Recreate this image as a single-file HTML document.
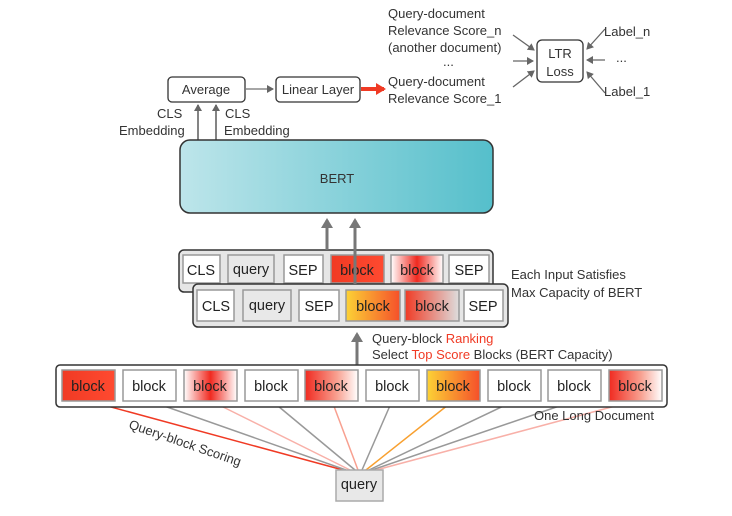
<!DOCTYPE html>
<html><head><meta charset="utf-8"><style>
body{margin:0;background:#fff}
svg{display:block}
text{font-family:"Liberation Sans",sans-serif;font-size:13px;fill:#333}
.c{font-size:14.5px;fill:#222}
</style></head><body>
<svg width="732" height="516" viewBox="0 0 732 516" xmlns="http://www.w3.org/2000/svg">
<defs>
<linearGradient id="bert" x1="0" x2="1"><stop offset="0" stop-color="#bde5ea"/><stop offset="1" stop-color="#55bfcb"/></linearGradient>
<linearGradient id="red" x1="0" x2="1"><stop offset="0" stop-color="#f03a24"/><stop offset="1" stop-color="#ff4a30"/></linearGradient>
<linearGradient id="redw" x1="0" x2="1"><stop offset="0" stop-color="#f02a20"/><stop offset="0.6" stop-color="#f8a090"/><stop offset="1" stop-color="#fff"/></linearGradient>
<linearGradient id="wredw" x1="0" x2="1"><stop offset="0" stop-color="#fff"/><stop offset="0.5" stop-color="#f02a20"/><stop offset="1" stop-color="#fff"/></linearGradient>
<linearGradient id="redgray" x1="0" x2="1"><stop offset="0" stop-color="#f03a24"/><stop offset="1" stop-color="#ddd"/></linearGradient>
<linearGradient id="yel" x1="0" x2="1"><stop offset="0" stop-color="#fcd235"/><stop offset="1" stop-color="#f5502a"/></linearGradient>
<marker id="ah" markerWidth="8" markerHeight="8" refX="6" refY="4" orient="auto" markerUnits="userSpaceOnUse"><path d="M0,0 L7,4 L0,8 Z" fill="#666"/></marker>
<marker id="ahb" markerWidth="12" markerHeight="12" refX="8" refY="6" orient="auto" markerUnits="userSpaceOnUse"><path d="M0,0 L10,6 L0,12 Z" fill="#777"/></marker>
<marker id="ahr" markerWidth="12" markerHeight="12" refX="8" refY="6" orient="auto" markerUnits="userSpaceOnUse"><path d="M0,0 L10,6 L0,12 Z" fill="#f03a24"/></marker>
</defs>

<rect x="168" y="77" width="77" height="25" rx="4" fill="#fff" stroke="#333" stroke-width="1.3"/>
<text x="206" y="94" text-anchor="middle">Average</text>
<rect x="276" y="77" width="84" height="25" rx="4" fill="#fff" stroke="#333" stroke-width="1.3"/>
<text x="318" y="94" text-anchor="middle">Linear Layer</text>
<line x1="246" y1="89" x2="273" y2="89" stroke="#888" stroke-width="1.5" marker-end="url(#ah)"/>
<line x1="361" y1="89" x2="384" y2="89" stroke="#f03a24" stroke-width="4" marker-end="url(#ahr)"/>
<text x="388" y="18">Query-document</text>
<text x="388" y="35">Relevance Score_n</text>
<text x="388" y="52">(another document)</text>
<text x="443" y="66">...</text>
<text x="388" y="86">Query-document</text>
<text x="388" y="103">Relevance Score_1</text>
<rect x="537" y="40" width="46" height="42" rx="5" fill="#fff" stroke="#333" stroke-width="1.3"/>
<text x="560" y="58" text-anchor="middle" font-size="14">LTR</text>
<text x="560" y="76" text-anchor="middle" font-size="14">Loss</text>
<line x1="513" y1="35" x2="534" y2="50" stroke="#666" stroke-width="1.3" marker-end="url(#ah)"/>
<line x1="513" y1="61" x2="533" y2="61" stroke="#666" stroke-width="1.3" marker-end="url(#ah)"/>
<line x1="513" y1="87" x2="534" y2="71" stroke="#666" stroke-width="1.3" marker-end="url(#ah)"/>
<line x1="605" y1="29" x2="587" y2="49" stroke="#666" stroke-width="1.3" marker-end="url(#ah)"/>
<line x1="605" y1="60" x2="587" y2="60" stroke="#666" stroke-width="1.3" marker-end="url(#ah)"/>
<line x1="605" y1="93" x2="587" y2="72" stroke="#666" stroke-width="1.3" marker-end="url(#ah)"/>
<text x="604" y="36">Label_n</text>
<text x="616" y="62">...</text>
<text x="604" y="96">Label_1</text>

<text x="157" y="118">CLS</text>
<text x="119" y="135">Embedding</text>
<text x="225" y="118">CLS</text>
<text x="224" y="135">Embedding</text>
<line x1="198" y1="140" x2="198" y2="105" stroke="#777" stroke-width="1.8" marker-end="url(#ah)"/>
<line x1="216" y1="140" x2="216" y2="105" stroke="#777" stroke-width="1.8" marker-end="url(#ah)"/>

<rect x="180" y="140" width="313" height="73" rx="10" fill="url(#bert)" stroke="#333" stroke-width="1.5"/>
<text x="337" y="183" text-anchor="middle" font-size="16">BERT</text>

<rect x="179" y="250" width="314" height="42" rx="5" fill="#e6e6e6" stroke="#333" stroke-width="1.5"/>
<g stroke="#999" stroke-width="1.5">
<rect x="183" y="255" width="37" height="28" fill="#fff"/>
<rect x="228" y="255" width="46" height="28" fill="#e8e8e8"/>
<rect x="284" y="255" width="39" height="28" fill="#fff"/>
<rect x="331" y="255" width="53" height="28" fill="url(#red)"/>
<rect x="391" y="255" width="52" height="28" fill="url(#wredw)"/>
<rect x="449" y="255" width="40" height="28" fill="#fff"/>
</g>
<text class="c" x="201" y="275" text-anchor="middle">CLS</text>
<text class="c" x="251" y="274" text-anchor="middle">query</text>
<text class="c" x="303" y="275" text-anchor="middle">SEP</text>
<text class="c" x="357" y="275" text-anchor="middle">block</text>
<text class="c" x="417" y="275" text-anchor="middle">block</text>
<text class="c" x="469" y="275" text-anchor="middle">SEP</text>
<line x1="327" y1="250" x2="327" y2="220" stroke="#777" stroke-width="3" marker-end="url(#ahb)"/>
<line x1="355" y1="290" x2="355" y2="220" stroke="#777" stroke-width="3" marker-end="url(#ahb)"/>

<rect x="193" y="284" width="315" height="43" rx="5" fill="#e6e6e6" stroke="#333" stroke-width="1.5"/>
<g stroke="#999" stroke-width="1.5">
<rect x="197" y="290" width="37" height="31" fill="#fff"/>
<rect x="243" y="290" width="48" height="31" fill="#e8e8e8"/>
<rect x="299" y="290" width="40" height="31" fill="#fff"/>
<rect x="346" y="290" width="54" height="31" fill="url(#yel)"/>
<rect x="405" y="290" width="54" height="31" fill="url(#redgray)"/>
<rect x="464" y="290" width="39" height="31" fill="#fff"/>
</g>
<text class="c" x="216" y="311" text-anchor="middle">CLS</text>
<text class="c" x="267" y="310" text-anchor="middle">query</text>
<text class="c" x="319" y="311" text-anchor="middle">SEP</text>
<text class="c" x="373" y="311" text-anchor="middle">block</text>
<text class="c" x="432" y="311" text-anchor="middle">block</text>
<text class="c" x="483" y="311" text-anchor="middle">SEP</text>
<line x1="355" y1="284" x2="355" y2="255" stroke="#777" stroke-width="3"/>

<text x="511" y="279">Each Input Satisfies</text>
<text x="511" y="297">Max Capacity of BERT</text>

<line x1="357" y1="365" x2="357" y2="334" stroke="#777" stroke-width="3" marker-end="url(#ahb)"/>
<text x="372" y="343">Query-block <tspan fill="#f03a24">Ranking</tspan></text>
<text x="372" y="359">Select <tspan fill="#f03a24">Top Score</tspan> Blocks (BERT Capacity)</text>

<g stroke-width="1.5">
<line x1="89" y1="401" x2="343" y2="470" stroke="#f03a24"/>
<line x1="150" y1="401" x2="346" y2="470" stroke="#999"/>
<line x1="211" y1="401" x2="350" y2="470" stroke="#f8b0a8"/>
<line x1="272" y1="401" x2="355" y2="470" stroke="#999"/>
<line x1="332" y1="401" x2="358" y2="470" stroke="#f8a090"/>
<line x1="392" y1="401" x2="362" y2="470" stroke="#999"/>
<line x1="453" y1="401" x2="366" y2="470" stroke="#f8a030"/>
<line x1="514" y1="401" x2="369" y2="470" stroke="#999"/>
<line x1="574" y1="401" x2="372" y2="470" stroke="#999"/>
<line x1="634" y1="401" x2="376" y2="470" stroke="#f8b0a8"/>
</g>

<rect x="56" y="365" width="611" height="42" rx="4" fill="#fff" stroke="#333" stroke-width="1.5"/>
<g stroke="#999" stroke-width="1.5">
<rect x="62" y="370" width="53" height="31" fill="url(#red)"/>
<rect x="123" y="370" width="53" height="31" fill="#fff"/>
<rect x="184" y="370" width="53" height="31" fill="url(#wredw)"/>
<rect x="245" y="370" width="53" height="31" fill="#fff"/>
<rect x="305" y="370" width="53" height="31" fill="url(#redw)"/>
<rect x="366" y="370" width="53" height="31" fill="#fff"/>
<rect x="427" y="370" width="53" height="31" fill="url(#yel)"/>
<rect x="488" y="370" width="53" height="31" fill="#fff"/>
<rect x="548" y="370" width="53" height="31" fill="#fff"/>
<rect x="609" y="370" width="53" height="31" fill="url(#redw)"/>
</g>
<text class="c" x="88" y="391" text-anchor="middle">block</text>
<text class="c" x="149" y="391" text-anchor="middle">block</text>
<text class="c" x="210" y="391" text-anchor="middle">block</text>
<text class="c" x="271" y="391" text-anchor="middle">block</text>
<text class="c" x="331" y="391" text-anchor="middle">block</text>
<text class="c" x="392" y="391" text-anchor="middle">block</text>
<text class="c" x="453" y="391" text-anchor="middle">block</text>
<text class="c" x="514" y="391" text-anchor="middle">block</text>
<text class="c" x="574" y="391" text-anchor="middle">block</text>
<text class="c" x="635" y="391" text-anchor="middle">block</text>
<text x="534" y="420">One Long Document</text>
<text x="128" y="428" transform="rotate(19 128 428)">Query-block Scoring</text>

<rect x="336" y="470" width="47" height="31" fill="#e8e8e8" stroke="#aaa" stroke-width="1.5"/>
<text class="c" x="359" y="489" text-anchor="middle">query</text>
</svg>
</body></html>
